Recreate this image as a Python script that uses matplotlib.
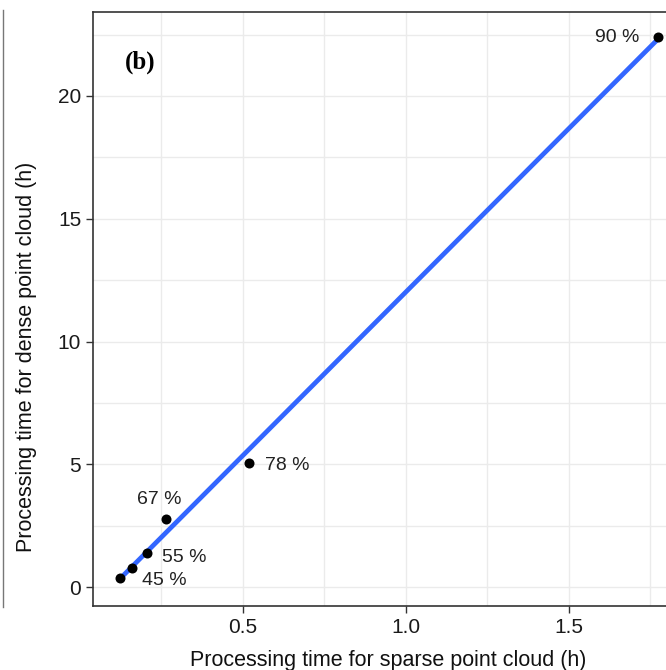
import numpy as np
import matplotlib.pyplot as plt
from matplotlib.lines import Line2D
from matplotlib.ticker import MultipleLocator

# sparse vs dense processing time (h)
sparse_h = [0.123, 0.160, 0.205, 0.264, 0.518, 1.773]
dense_h = [0.37, 0.77, 1.38, 2.77, 5.05, 22.4]
labels = ["45 %", None, "55 %", "67 %", "78 %", "90 %"]
# label offsets in pixels (dx, dy, ha)
label_offsets = [(22, -2, "left"), None, (15, -4, "left"), (-7, 20, "center"),
                 (16, -2, "left"), (-18, 0, "right")]

plt.rcParams["font.family"] = ["Liberation Sans", "DejaVu Sans"]

fig = plt.figure(figsize=(6.66, 6.70), dpi=100)
ax = fig.add_axes([93 / 666, 64 / 670, 1 - 93 / 666, (606 - 12) / 670])

# linear fit line (geom_smooth lm style)
coef = np.polyfit(sparse_h, dense_h, 1)
xs = np.array([min(sparse_h), max(sparse_h)])
ax.plot(xs, np.polyval(coef, xs), color="#3366FF", linewidth=3.4, zorder=3,
        solid_capstyle="butt")

ax.scatter(sparse_h, dense_h, s=52, color="black", zorder=4, linewidths=0)

for x, y, lab, off in zip(sparse_h, dense_h, labels, label_offsets):
    if lab is None:
        continue
    dx, dy, ha = off
    ax.annotate(lab, (x, y), xytext=(dx, dy), textcoords="offset pixels",
                ha=ha, va="center", fontsize=14, color="#222222", zorder=5)

ax.set_xlim(0.04, 1.798)
ax.set_ylim(-0.77, 23.42)
ax.xaxis.set_major_locator(MultipleLocator(0.5))
ax.xaxis.set_minor_locator(MultipleLocator(0.25))
ax.yaxis.set_major_locator(MultipleLocator(5))
ax.yaxis.set_minor_locator(MultipleLocator(2.5))
ax.xaxis.set_major_formatter(plt.FuncFormatter(lambda v, _: f"{v:.1f}"))
ax.yaxis.set_major_formatter(plt.FuncFormatter(lambda v, _: f"{v:g}"))

ax.grid(True, which="both", color="#EBEBEB", linewidth=1.0, zorder=0)
ax.set_axisbelow(True)
ax.tick_params(which="major", length=5, width=1.0, color="#333333",
               labelsize=15, labelcolor="#1a1a1a", pad=3.5)
ax.tick_params(which="minor", length=0)

for side in ["left", "bottom", "top"]:
    ax.spines[side].set_color("#333333")
    ax.spines[side].set_linewidth(1.2)
ax.spines["right"].set_visible(False)

ax.set_xlabel("Processing time for sparse point cloud (h)", fontsize=15.5,
              color="#111111")
ax.set_ylabel("Processing time for dense point cloud (h)", fontsize=15.5,
              color="#111111")
ax.yaxis.set_label_coords(-0.098, 0.42)
ax.xaxis.set_label_coords(0.515, -0.074)

ax.text(0.055, 0.915, "(b)", transform=ax.transAxes, fontsize=18,
        fontweight="bold", family="Liberation Serif", va="center", ha="left")

# edge of the neighbouring panel
fig.add_artist(Line2D([2.5 / 666, 2.5 / 666], [1 - 10 / 670, 1 - 607 / 670],
                      color="#777777", linewidth=1.0))

fig.savefig("out.png", dpi=100)
